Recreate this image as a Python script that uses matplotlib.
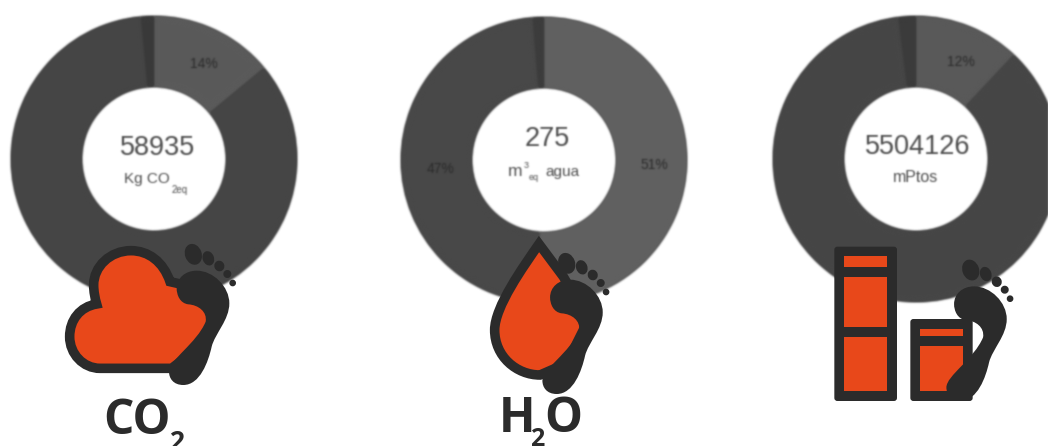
import numpy as np
import matplotlib
matplotlib.use('Agg')
import matplotlib.pyplot as plt
from matplotlib.path import Path
from matplotlib.patches import PathPatch, Ellipse, FancyBboxPatch, Rectangle

W = 1048
H = 446

# donut values (percent), clockwise from 12 o'clock
co2_values = [14, 84.5, 1.5]
h2o_values = [51, 47.7, 1.3]
pts_values = [12, 86, 2]
co2_labels = ['14%', '', '']
h2o_labels = ['51%', '47%', '']
pts_labels = ['12%', '', '']
totals = ['58935', '275', '5504126']

DARK = '#2b2b2b'
ORANGE = '#e8481a'
GREY = '#4c4c4c'

M, L, C, Z = Path.MOVETO, Path.LINETO, Path.CURVE4, Path.CLOSEPOLY


def curve(start, *segs):
    # segs are single points (line) or three points (bezier), in 3x zoom pixels
    verts = [start]
    codes = [M]
    for s in segs:
        if len(s) == 3:
            verts += list(s)
            codes += [C] * 3
        else:
            verts.append(s[0])
            codes.append(L)
    verts.append(start)
    codes.append(Z)
    return np.array(verts, dtype=float), codes


foot_shape = curve((590, 812),
                   ((640, 812), (688, 860), (688, 910)),
                   ((688, 960), (645, 1000), (635, 1040)),
                   ((625, 1085), (600, 1155), (550, 1155)),
                   ((520, 1155), (507, 1135), (507, 1115)),
                   ((507, 1080), (590, 1030), (617, 965)),
                   ((622, 935), (595, 915), (565, 913)),
                   ((540, 910), (530, 885), (530, 865)),
                   ((530, 835), (555, 812), (590, 812)))
toes = [(580, 763, 25, 32), (625, 775, 17, 22), (658, 798, 15, 16), (682, 822, 12, 12), (698, 849, 10, 10)]
cloud_shape = curve((300, 1105),
                    ((515, 1105),), ((600, 1040),), ((655, 950),), ((620, 870),), ((510, 845),),
                    ((490, 785), (445, 752), (393, 752)),
                    ((330, 752), (281, 800), (281, 855)),
                    ((281, 875), (285, 895), (290, 912)),
                    ((240, 920), (209, 960), (209, 1010)),
                    ((209, 1062), (250, 1105), (300, 1105)))
drop_shape = curve((477, 732),
                   ((430, 800), (344, 920), (344, 990)),
                   ((344, 1070), (410, 1125), (480, 1125)),
                   ((560, 1090),), ((625, 960),), ((550, 830),))


def blur(sigma):
    x = np.arange(-6, 7)
    kernel = np.exp(-x ** 2 / (2 * sigma ** 2))
    kernel = kernel / kernel.sum()

    def smooth(a):
        a = np.apply_along_axis(lambda v: np.convolve(v, kernel, mode='same'), 0, a)
        return np.apply_along_axis(lambda v: np.convolve(v, kernel, mode='same'), 1, a)

    def process(img, dpi):
        img = np.pad(img, ((8, 8), (8, 8), (0, 0)))
        alpha = img[:, :, 3]
        out = np.zeros_like(img)
        a2 = smooth(alpha)
        for i in range(3):
            out[:, :, i] = smooth(img[:, :, i] * alpha) / np.maximum(a2, 1e-4)
        out[:, :, 3] = a2
        return np.clip(out, 0, 1), -8, -8
    return process


def to_path(shape, ox=0, oy=0):
    verts, codes = shape
    pts = np.column_stack([ox + verts[:, 0] / 3, H - (oy + verts[:, 1] / 3)])
    return Path(pts, codes)


def donut(ax, values, labels, cx, cy, colors, nudge):
    R = 143
    under = ax.pie([1], colors=[colors[1]], center=(cx, H - cy), radius=R,
                   wedgeprops=dict(width=R - 72, linewidth=0), frame=False)
    under[0][0].set_agg_filter(blur(1.1))
    wedges, texts = ax.pie(values, labels=labels, colors=colors, startangle=90, counterclock=False,
                           center=(cx, H - cy), radius=R, wedgeprops=dict(width=R - 72, linewidth=0),
                           labeldistance=108 / R, frame=False,
                           textprops=dict(fontsize=10, color='#2a2a2a', ha='center', va='center',
                                          family='Liberation Sans'))
    for w in wedges:
        w.set_agg_filter(blur(1.1))
    for t, (dx, dy) in zip(texts, nudge):
        x, y = t.get_position()
        t.set_position((x + dx, y - dy))
        t.set_agg_filter(blur(0.9))


def foot(ax, ox, oy):
    ax.add_patch(PathPatch(to_path(foot_shape, ox, oy), fc=DARK, ec='none', zorder=6))
    for x, y, rx, ry in toes:
        c = (ox + x / 3, H - (oy + y / 3))
        ax.add_patch(Ellipse(c, rx * 2 / 3, ry * 2 / 3, angle=20, fc=DARK, ec='none', zorder=6))


def bar_icon(ax, x0, x1, y0, y1, cells):
    # dark rounded block with orange cells, all in 3x zoom pixels
    l, r = 750 + x0 / 3, 750 + x1 / 3
    t, b = H - y0 / 3, H - y1 / 3
    ax.add_patch(FancyBboxPatch((l + 3, b + 3), r - l - 6, t - b - 6, boxstyle='round,pad=3',
                                fc=DARK, ec='none', zorder=4))
    for c0, c1 in cells:
        ax.add_patch(Rectangle((l + 29 / 3, H - c1 / 3), r - l - 58 / 3, (c1 - c0) / 3,
                               fc=ORANGE, ec='none', zorder=5))


def soft(ax, x, y, s, size, ha='left'):
    t = ax.text(x, H - y, s, fontsize=size, color=GREY, ha=ha, va='center', family='Liberation Sans')
    t.set_agg_filter(blur(0.8))


fig = plt.figure(figsize=(W / 100, H / 100), dpi=100)
ax = fig.add_axes([0, 0, 1, 1])

donut(ax, co2_values, co2_labels, 154, 159, ['#5b5b5b', '#454545', '#3a3a3a'], [(4, 3), (0, 0), (0, 0)])
donut(ax, h2o_values, h2o_labels, 544, 160, ['#616161', '#484848', '#3c3c3c'], [(2, 2), (5, 8), (0, 0)])
donut(ax, pts_values, pts_labels, 916, 159, ['#5a5a5a', '#464646', '#3b3b3b'], [(5, 3), (0, 0), (0, 0)])

ax.set_xlim(0, W)
ax.set_ylim(0, H)
ax.axis('off')

soft(ax, 158, 148, totals[0], 19.5, ha='center')
soft(ax, 547.5, 139, totals[1], 19.5, ha='center')
soft(ax, 917.5, 147, totals[2], 19.5, ha='center')

soft(ax, 124, 179, 'Kg CO', 11)
soft(ax, 172, 190, '2eq', 7)
soft(ax, 508, 172, 'm', 12.5)
soft(ax, 524, 165, '3', 6.5)
soft(ax, 529, 177, 'eq', 6.5)
soft(ax, 545, 172, 'agua', 11)
soft(ax, 916, 178, 'mPtos', 11.5, ha='center')

# cloud icon
ax.add_patch(PathPatch(to_path(cloud_shape), fc=ORANGE, ec=DARK, lw=6.9, zorder=5))
foot(ax, 0, 0)

# drop icon
ax.add_patch(PathPatch(to_path(drop_shape, 380), fc=ORANGE, ec=DARK, lw=6.9,
                       joinstyle='miter', zorder=5))
foot(ax, 373.4, 9)

# buildings icon
bar_icon(ax, 253, 441, 740, 1203, [(768, 802), (832, 981), (1011, 1173)])
bar_icon(ax, 481, 668, 957, 1203, [(986, 1008), (1037, 1173)])
foot(ax, 777.4, 15.7)

# captions
bold = dict(color=DARK, family='Open Sans', fontweight='bold', va='baseline', ha='left')
ax.text(103, H - 434, 'CO', fontsize=34.5, **bold)
ax.text(169, H - 449.5, '2', fontsize=19, **bold)
ax.text(498.5, H - 432, 'H', fontsize=34.5, **bold)
ax.text(530.5, H - 446, '2', fontsize=18, **bold)
ax.text(544.5, H - 432, 'O', fontsize=34.5, **bold)

fig.savefig('out.png', dpi=100, facecolor='white')
